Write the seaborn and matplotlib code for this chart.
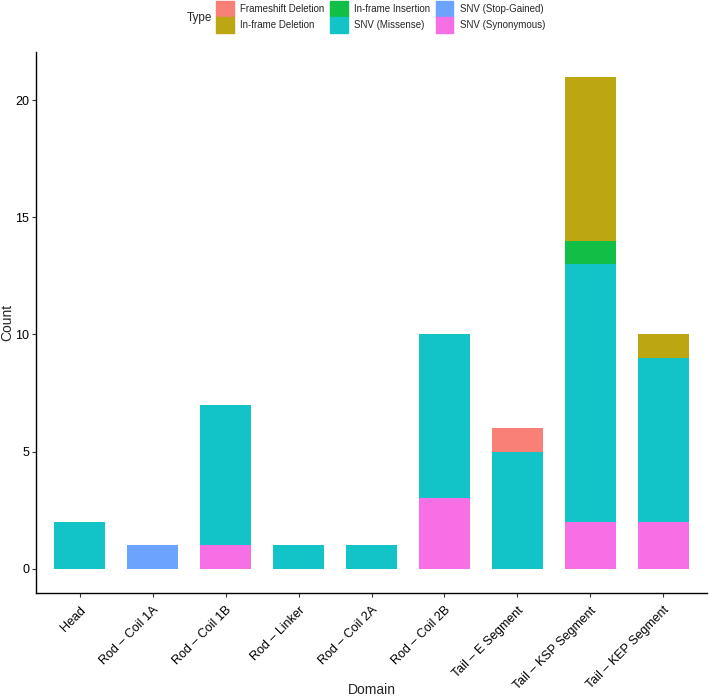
import matplotlib
matplotlib.use('Agg')
import matplotlib.pyplot as plt
from matplotlib.colors import to_rgb
from matplotlib.patches import Patch
import numpy as np
import seaborn as sns

domains = ['Head', 'Rod – Coil 1A', 'Rod – Coil 1B', 'Rod – Linker', 'Rod – Coil 2A',
           'Rod – Coil 2B', 'Tail – E Segment', 'Tail – KSP Segment', 'Tail – KEP Segment']
types = ['Frameshift Deletion', 'In-frame Deletion', 'In-frame Insertion',
         'SNV (Missense)', 'SNV (Stop-Gained)', 'SNV (Synonymous)']
colors = ['#F8766D', '#B79F00', '#00BA38', '#00BFC4', '#619CFF', '#F564E3']

# counts per type, one value per domain
frameshift_del = [0, 0, 0, 0, 0, 0, 1, 0, 0]
inframe_del = [0, 0, 0, 0, 0, 0, 0, 7, 1]
inframe_ins = [0, 0, 0, 0, 0, 0, 0, 1, 0]
missense = [2, 0, 6, 1, 1, 7, 5, 11, 7]
stop_gained = [0, 1, 0, 0, 0, 0, 0, 0, 0]
synonymous = [0, 0, 1, 0, 0, 3, 0, 2, 2]

counts = [frameshift_del, inframe_del, inframe_ins, missense, stop_gained, synonymous]


def soften(c, a=0.93):
    r, g, b = to_rgb(c)
    return (1 - a + a * r, 1 - a + a * g, 1 - a + a * b)


fills = [soften(c) for c in colors]

sns.set_style('ticks')
plt.rcParams['font.family'] = ['Liberation Sans', 'DejaVu Sans']

fig = plt.figure(figsize=(7.09, 6.98), dpi=100)
ax = fig.add_axes([0.051, 0.150, 0.946, 0.7755])

# stacked bars: first type sits on top (ggplot order), so draw cumulative
# totals from the full stack down to the bottom layer
cum = np.cumsum(np.array(counts[::-1]), axis=0)[::-1]
for i, t in enumerate(types):
    sns.barplot(x=domains, y=cum[i], order=domains, color=fills[i], saturation=1,
                width=0.7, linewidth=0, ax=ax)

ax.set_xlim(-0.6, len(domains) - 0.4)
ax.set_ylim(-1.05, 22.05)
ax.set_yticks([0, 5, 10, 15, 20])
ax.set_xticks(range(len(domains)))
ax.set_xticklabels(domains, rotation=45, ha='right', rotation_mode='anchor')
ax.tick_params(axis='both', labelsize=9, length=3, color='#333333', labelcolor='black', width=0.8)
ax.tick_params(axis='y', pad=2)
ax.tick_params(axis='x', pad=5)
ax.set_xlabel('Domain', fontsize=10, va='center')
ax.set_ylabel('Count', fontsize=10, va='center')
ax.xaxis.set_label_coords(0.5, -0.179)
ax.yaxis.set_label_coords(-0.043, 0.5)
sns.despine(ax=ax)
for s in ['left', 'bottom']:
    ax.spines[s].set_linewidth(1.0)
    ax.spines[s].set_color('black')

handles = [Patch(facecolor=c, edgecolor=c) for c in fills]
fig.legend(handles, types, ncol=3, loc='upper left', bbox_to_anchor=(0.305, 0.998),
           frameon=False, fontsize=7, handlelength=1.8, handleheight=2.1,
           handletextpad=0.65, columnspacing=0.6, labelspacing=0.0, borderpad=0.0,
           borderaxespad=0.0)
fig.text(0.264, 0.974, 'Type', fontsize=8.5, va='center', ha='left')

fig.savefig('out.png', dpi=100)
